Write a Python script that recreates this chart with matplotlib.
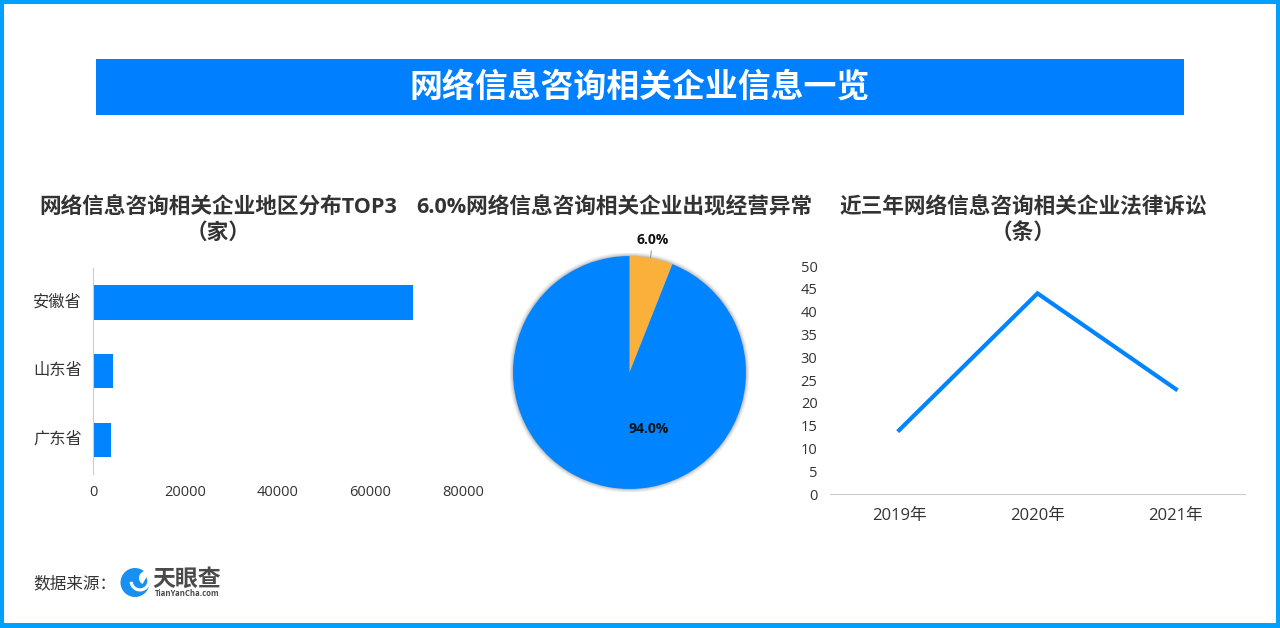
import matplotlib
matplotlib.use('Agg')
import matplotlib.pyplot as plt
from matplotlib.patches import Rectangle, Circle, Wedge
from matplotlib.transforms import ScaledTranslation

LATIN_CJK = ['Open Sans', 'Noto Sans CJK SC', 'DejaVu Sans']
plt.rcParams['font.family'] = LATIN_CJK

W, H = 1280, 628

provinces = ['安徽省', '山东省', '广东省']
company_counts = [69200, 4300, 3800]
pie_labels = ['6.0%', '94.0%']
pie_values = [6.0, 94.0]
years = ['2019年', '2020年', '2021年']
lawsuits = [14, 44, 23]

BLUE = '#0084ff'
ORANGE = '#fbb03b'
BORDER = '#00a0ff'
TEXT = '#333333'


def make_ax(x0, y0, x1, y1):
    # pixel box, y measured from the top
    return fig.add_axes([x0 / W, 1 - y1 / H, (x1 - x0) / W, (y1 - y0) / H])


def subtitle(x, y, s):
    bg.text(x, y, s, color=TEXT, fontsize=15.6, fontweight='bold', ha='center', va='center')


fig = plt.figure(figsize=(W / 100, H / 100), dpi=100)
bg = fig.add_axes([0, 0, 1, 1])
bg.set_xlim(0, W)
bg.set_ylim(H, 0)
bg.axis('off')
bg.add_patch(Rectangle((2, 2), W - 4, H - 4, fc='white', ec=BORDER, lw=2.9))
bg.add_patch(Rectangle((0, 623), W, 5, fc=BORDER, ec='none'))
bg.add_patch(Rectangle((96, 59), 1088, 56, fc='#0080ff', ec='none'))
bg.text(640, 87, '网络信息咨询相关企业信息一览', color='white', fontsize=23.7, fontweight='bold',
        family=['Noto Sans CJK SC', 'DejaVu Sans'], ha='center', va='center')

subtitle(218, 208, '网络信息咨询相关企业地区分布TOP3')
subtitle(218, 233, '（家）')
subtitle(614.5, 208, '6.0%网络信息咨询相关企业出现经营异常')
subtitle(1023.5, 208, '近三年网络信息咨询相关企业法律诉讼')
subtitle(1023.5, 233, '（条）')

bg.text(33, 584, '数据来源：', color=TEXT, fontsize=12, ha='left', va='center')

# logo, rough shapes only
bg.add_patch(Circle((135, 582.5), 14.5, fc='#1890f0', ec='none'))
bg.add_patch(Wedge((140, 581), 10.5, -70, 175, width=3.2, fc='white', ec='none'))
bg.add_patch(Wedge((146, 578), 7, 120, 300, fc='white', ec='none'))
bg.add_patch(Wedge((151, 572), 17, 195, 240, width=2, fc='white', ec='none'))
bg.text(187, 579, '天眼查', color='#4a4a4a', fontsize=16.5, fontweight='bold', ha='center', va='center',
        family=['Noto Sans CJK SC', 'DejaVu Sans'])
bg.text(187, 593, 'TianYanCha.com', color='#4a4a4a', fontsize=5.6, fontweight='bold', ha='center', va='center')

# bars
ax1 = make_ax(93, 268, 463, 474)
ax1.barh(provinces, company_counts, height=0.5, color=BLUE)
ax1.set_xlim(0, 80000)
ax1.set_ylim(2.5, -0.5)
ax1.set_xticks([0, 20000, 40000, 60000, 80000])
for s in ['top', 'right', 'bottom']:
    ax1.spines[s].set_visible(False)
ax1.spines['left'].set_color('#cccccc')
ax1.tick_params(axis='x', length=0, labelsize=10.5, labelcolor=TEXT, pad=8)
ax1.tick_params(axis='y', length=0, labelsize=11.7, labelcolor=TEXT, pad=8)
# province labels sit a little above the bar centres
for lab in ax1.get_yticklabels():
    lab.set_transform(lab.get_transform() + ScaledTranslation(0, 2 / 100, fig.dpi_scale_trans))
ax1.patch.set_alpha(0)

# pie, soft grey shadow first
ax2 = make_ax(510, 253, 749, 492)
for r, a in [(1.035, 0.08), (1.025, 0.12), (1.015, 0.2), (1.006, 0.3)]:
    ax2.add_patch(Circle((0, 0), r, fc='#888888', ec='none', alpha=a))
ax2.pie(pie_values, colors=[ORANGE, BLUE], startangle=90, counterclock=False, radius=1,
        wedgeprops={'linewidth': 0})
ax2.set_xlim(-1.026, 1.026)
ax2.set_ylim(-1.026, 1.026)
ax2.annotate(pie_labels[0], xy=(0.18, 0.985), xytext=(0.2, 1.14), ha='center', va='center', fontsize=10,
             fontweight='bold', color='#111111', annotation_clip=False,
             arrowprops={'arrowstyle': '-', 'color': '#999999', 'lw': 0.8, 'shrinkA': 1, 'shrinkB': 0})
ax2.text(0.165, -0.485, pie_labels[1], ha='center', va='center', fontsize=10, fontweight='bold', color='#111111')

# line
ax3 = make_ax(830, 266, 1245, 494)
ax3.plot(years, lawsuits, color=BLUE, lw=3, solid_joinstyle='miter')
ax3.set_xlim(-0.5, 2.5)
ax3.set_ylim(0, 50)
ax3.set_yticks(range(0, 51, 5))
for s in ['top', 'right', 'left']:
    ax3.spines[s].set_visible(False)
ax3.spines['bottom'].set_color('#cccccc')
ax3.tick_params(axis='x', length=0, labelsize=12, labelcolor=TEXT, pad=10)
ax3.tick_params(axis='y', length=0, labelsize=10.5, labelcolor=TEXT, pad=9)
ax3.patch.set_alpha(0)

fig.savefig('out.png', dpi=100)
